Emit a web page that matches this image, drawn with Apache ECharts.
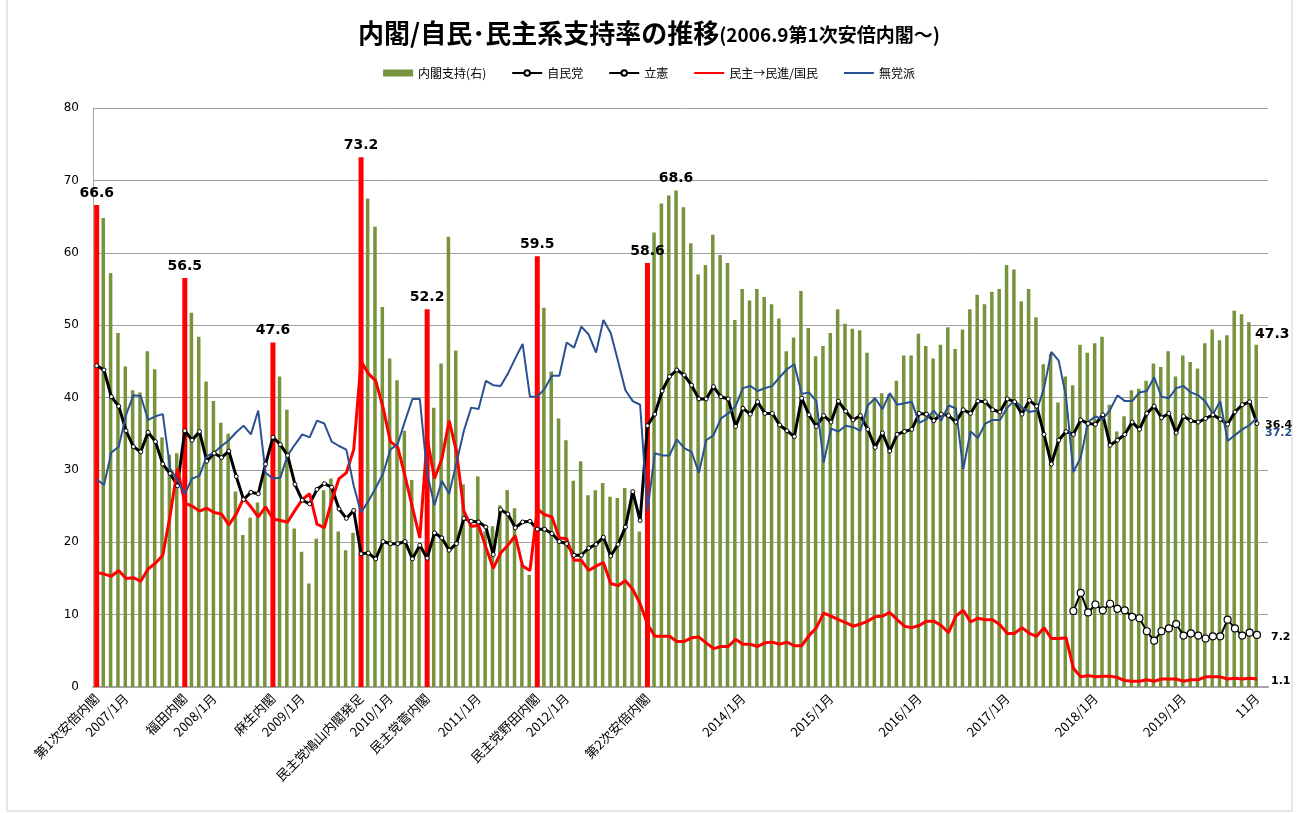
<!DOCTYPE html>
<html>
<head>
<meta charset="utf-8">
<script src="https://cdn.jsdelivr.net/npm/echarts@6/dist/echarts.min.js"></script>
<style>
html,body{margin:0;padding:0;background:#fff;}
#c{width:1298px;height:813px;}
</style>
</head>
<body>
<div id="c"></div>
<script>
// ---- categories: monthly 2006/9 .. 2019/12 (last slot empty) ----
const startYear = 2006, startMonth = 9, monthCount = 160;
const categories = [];
for (let k = 0; k < monthCount; k++) {
  const m = (startMonth - 1 + k) % 12 + 1;
  const y = startYear + Math.floor((startMonth - 1 + k) / 12);
  categories.push(y + '/' + m);
}

// ---- tick labels ----
const tickIndex = [0,4,12,16,24,28,36,40,45,52,60,64,75,88,100,112,124,136,148,158];
const tickText = ['第1次安倍内閣','2007/1月','福田内閣','2008/1月','麻生内閣','2009/1月','民主党鳩山内閣発足','2010/1月','民主党菅内閣','2011/1月','民主党野田内閣','2012/1月','第2次安倍内閣','2014/1月','2015/1月','2016/1月','2017/1月','2018/1月','2019/1月','11月'];

// months where a new cabinet started (drawn red, labelled)
const cabinetStart = [0,12,24,36,45,60,75];
// other labelled approval bars
const labelledBars = [79,158];

// ---- 内閣支持 (cabinet approval) ----
const cabinetApproval = [
66.6,64.8,57.2,48.9,44.3,41.0,40.7,46.4,43.9,34.5,32.1,32.3,
56.5,51.7,48.4,42.2,39.5,36.5,35.0,27.0,21.0,23.4,25.5,29.5,
47.6,42.9,38.3,21.9,18.7,14.3,20.5,27.2,28.8,21.5,18.9,21.3,
73.2,67.5,63.6,52.5,45.4,42.4,35.4,28.6,19.0,52.2,38.6,44.7,
62.2,46.5,28.0,23.0,29.1,21.5,22.2,25.1,27.2,24.7,17.0,15.5,
59.5,52.4,43.6,37.1,34.1,28.5,31.2,26.5,27.2,28.2,26.3,26.1,
27.5,27.0,21.5,58.6,62.8,66.8,67.9,68.6,66.3,61.3,57.0,58.3,
62.5,59.7,58.6,50.7,55.0,53.4,55.0,53.9,52.9,50.9,46.4,48.3,
54.7,49.6,45.7,47.1,48.9,52.2,50.2,49.5,49.3,46.2,40.0,40.6,
40.5,42.3,45.8,45.8,48.8,47.1,45.4,47.3,49.7,46.7,49.4,52.2,
54.2,52.9,54.6,55.0,58.3,57.7,53.3,55.0,51.1,44.6,46.0,39.3,
42.9,41.7,47.3,46.2,47.5,48.4,39.0,35.3,37.4,41.0,41.2,42.3,
44.7,44.2,46.4,42.9,45.8,44.9,44.0,47.5,49.4,47.9,48.6,52.0,
51.5,50.4,47.3
];

// ---- 自民党 ----
const ldp = [
44.4,43.8,40.1,38.8,35.4,33.2,32.5,35.2,33.9,30.8,29.5,27.8,
35.4,34.1,35.3,31.2,32.3,31.7,32.6,29.1,25.9,26.9,26.7,30.8,
34.5,33.5,32.0,28.0,25.8,25.3,27.3,28.1,27.6,24.6,23.3,24.4,
18.4,18.5,17.7,20.1,19.8,19.8,20.1,17.7,19.6,17.8,21.3,20.6,
18.9,19.8,23.3,22.9,22.8,22.1,18.3,24.5,23.9,22.0,22.8,22.9,
21.8,21.8,21.2,20.1,19.8,18.2,18.2,19.2,19.7,20.7,18.1,19.7,
22.1,27.0,23.0,36.1,37.7,40.9,42.9,43.8,43.1,41.7,39.8,39.8,
41.5,40.1,39.8,36.0,38.5,37.7,39.4,37.8,37.8,36.2,35.4,34.6,
39.9,37.6,36.0,37.5,36.6,39.5,38.1,36.9,37.5,35.6,33.1,35.1,
32.6,34.9,35.3,35.6,37.8,37.7,36.8,37.7,37.5,36.6,38.3,37.8,
39.5,39.4,38.3,38.0,39.8,39.4,37.7,39.6,38.8,34.9,30.8,34.1,
35.3,34.9,36.9,36.4,36.3,37.6,33.4,34.1,34.9,36.6,35.6,37.8,
38.8,37.2,37.8,35.1,37.4,36.8,36.6,37.1,37.6,37.0,36.3,38.0,
39.0,39.4,36.4
];

// ---- 立憲 (from 2017/10) ----
const cdpStart = 133;
const cdpValues = [
10.5,13.0,10.3,11.4,10.6,11.5,10.8,10.6,9.7,9.5,7.7,6.4,
7.7,8.1,8.7,7.1,7.4,7.1,6.7,7.0,7.0,9.3,8.1,7.1,7.5,7.2
];

// ---- 民主→民進/国民 ----
const dpj = [
15.8,15.6,15.3,16.1,15.0,15.1,14.6,16.3,17.1,18.2,23.7,30.2,
25.4,25.0,24.3,24.7,24.1,23.9,22.4,23.9,26.1,24.9,23.5,24.9,
23.2,23.0,22.8,24.4,25.9,26.7,22.5,22.0,25.7,28.8,29.6,32.8,
45.0,43.3,42.3,38.6,33.9,33.1,29.1,24.8,20.6,34.4,28.8,31.5,
36.8,32.5,24.3,22.2,22.3,19.3,16.4,18.5,19.6,20.9,16.7,16.1,
24.6,23.8,23.5,20.6,20.5,17.5,17.5,16.1,16.7,17.2,14.3,14.0,
14.7,13.5,11.5,8.7,7.0,7.0,7.0,6.3,6.3,6.8,6.9,6.1,
5.3,5.6,5.6,6.6,5.9,5.9,5.6,6.1,6.2,5.9,6.2,5.7,
5.7,7.1,8.2,10.2,9.8,9.3,8.9,8.4,8.7,9.1,9.7,9.8,
10.3,9.3,8.4,8.2,8.5,9.1,9.1,8.5,7.5,9.8,10.6,9.0,
9.5,9.3,9.3,8.6,7.4,7.4,8.2,7.4,7.0,8.2,6.7,6.7,
6.8,2.6,1.4,1.6,1.4,1.5,1.5,1.3,0.9,0.8,0.8,1.0,
0.8,1.1,1.1,1.1,0.8,1.0,1.0,1.4,1.4,1.4,1.1,1.2,
1.1,1.2,1.1
];

// ---- 無党派 ----
const independents = [
28.7,27.9,32.4,33.2,37.6,40.3,40.2,36.9,37.4,37.7,30.2,28.6,
26.7,28.8,29.2,31.9,32.4,33.3,34.1,35.2,36.1,34.9,38.2,29.6,
28.8,28.9,32.0,33.5,34.9,34.5,36.8,36.4,33.9,33.3,32.8,27.8,
24.1,25.7,27.5,29.5,32.8,33.6,36.8,39.8,39.8,29.5,25.1,28.5,
26.7,31.0,35.4,38.6,38.4,42.3,41.7,41.6,43.3,45.4,47.4,40.1,
40.1,41.2,43.0,43.0,47.6,46.9,49.8,48.7,46.2,50.7,48.9,45.0,
41.0,39.5,39.0,24.3,32.3,32.0,32.0,34.2,33.0,32.5,29.6,34.1,
34.8,37.1,37.8,38.8,41.3,41.6,40.9,41.3,41.6,42.8,43.9,44.6,
40.5,40.7,39.5,31.0,35.7,35.3,36.1,35.9,35.4,38.9,39.9,38.4,
40.6,39.0,39.2,39.4,36.5,37.0,38.2,36.8,38.9,38.5,30.1,35.3,
34.4,36.4,36.9,36.9,38.6,39.6,38.6,38.0,38.2,41.3,46.3,45.1,
40.1,29.7,31.7,36.6,37.4,37.0,38.3,40.3,39.5,39.5,40.7,40.9,
42.8,40.1,39.9,41.3,41.6,40.7,40.3,39.4,37.7,39.5,34.0,34.8,
35.6,36.2,37.2
];

// ---- build series data ----
const tickMap = {};
tickIndex.forEach((ix, k) => { tickMap[ix] = tickText[k]; });

const greenData = [], redData = [];
for (let k = 0; k < monthCount; k++) {
  const v = k < cabinetApproval.length ? cabinetApproval[k] : null;
  if (cabinetStart.indexOf(k) >= 0) {
    greenData.push(null);
    redData.push(v);
  } else {
    greenData.push(labelledBars.indexOf(k) >= 0 ? {
      value: v,
      label: { show: true, position: 'top', offset: k === 158 ? [16, 2] : [0, 0], formatter: '{c}' }
    } : v);
    redData.push(null);
  }
}
const cdp = [];
for (let k = 0; k < monthCount - 1; k++) {
  cdp.push(k >= cdpStart ? cdpValues[k - cdpStart] : null);
}

const labelFont = { fontFamily: 'DejaVu Sans', fontWeight: 'bold', fontSize: 14, color: '#000' };
const endFont = { fontFamily: 'DejaVu Sans', fontWeight: 'bold', fontSize: 11, color: '#000' };
const jp = '"Noto Sans CJK JP", sans-serif';

const chart = echarts.init(document.getElementById('c'), null, { renderer: 'canvas' });
chart.setOption({
  animation: false,
  backgroundColor: '#fff',
  title: {
    text: '{a|内閣/自民･民主系支持率の推移}{b|(2006.9第1次安倍内閣～)}',
    left: 'center',
    top: 15,
    textStyle: {
      rich: {
        a: { fontFamily: jp, fontSize: 26, fontWeight: 'bold', color: '#000' },
        b: { fontFamily: jp, fontSize: 19, fontWeight: 'bold', color: '#000', padding: [3, 0, 0, 0] }
      }
    }
  },
  legend: {
    top: 62,
    left: 'center',
    itemWidth: 30,
    itemHeight: 7,
    itemGap: 25,
    textStyle: { fontFamily: jp, fontSize: 12, color: '#000' },
    data: [
      { name: '内閣支持(右)', icon: 'rect' },
      { name: '自民党' },
      { name: '立憲' },
      { name: '民主→民進/国民', itemStyle: { opacity: 0 } },
      { name: '無党派', itemStyle: { opacity: 0 } }
    ]
  },
  graphic: [{
    type: 'rect',
    shape: { x: 7, y: -2, width: 1285, height: 813 },
    style: { fill: 'none', stroke: '#d0d0d0', lineWidth: 1 },
    silent: true, z: -10
  }],
  grid: { left: 93, right: 30, top: 108, bottom: 126, containLabel: false },
  xAxis: {
    type: 'category',
    data: categories,
    boundaryGap: true,
    axisLine: { show: true, lineStyle: { color: '#a6a6a6', width: 2 } },
    axisTick: { show: false },
    axisLabel: {
      interval: 0,
      rotate: 45,
      margin: 9,
      fontFamily: jp,
      fontSize: 13,
      color: '#000',
      formatter: (v, idx) => tickMap[idx] || ''
    },
    splitLine: { show: false }
  },
  yAxis: {
    type: 'value',
    min: 0, max: 80, interval: 10,
    axisLine: { show: true, lineStyle: { color: '#a6a6a6', width: 1 } },
    axisTick: { show: false },
    axisLabel: { fontFamily: 'DejaVu Sans', fontSize: 12, color: '#000', margin: 14 },
    splitLine: { show: true, lineStyle: { color: '#a0a0a0', width: 1 } }
  },
  series: [
    {
      name: '内閣支持(右)',
      type: 'bar',
      data: greenData,
      barWidth: 3.5,
      barGap: '-100%',
      itemStyle: { color: '#77933C' },
      label: Object.assign({ show: false }, labelFont),
      z: 2
    },
    {
      name: '内閣発足',
      type: 'bar',
      data: redData,
      barWidth: 5,
      barGap: '-100%',
      itemStyle: { color: '#FF0000' },
      label: Object.assign({ show: true, position: 'top', distance: 5, formatter: p => p.value == null ? '' : p.value.toFixed(1) }, labelFont),
      z: 2
    },
    {
      name: '自民党',
      type: 'line',
      data: ldp,
      symbol: 'circle',
      symbolSize: 4,
      showSymbol: true,
      lineStyle: { color: '#000', width: 3 },
      itemStyle: { color: '#fff', borderColor: '#000', borderWidth: 1 },
      endLabel: Object.assign({ show: true, formatter: p => p.value, offset: [0, 2] }, endFont),
      z: 4
    },
    {
      name: '立憲',
      type: 'line',
      data: cdp,
      symbol: 'circle',
      symbolSize: 7,
      showSymbol: true,
      connectNulls: false,
      lineStyle: { color: '#000', width: 2 },
      itemStyle: { color: '#fff', borderColor: '#000', borderWidth: 1.2 },
      endLabel: Object.assign({ show: true, formatter: p => p.value, offset: [6, 2] }, endFont),
      z: 4
    },
    {
      name: '民主→民進/国民',
      type: 'line',
      data: dpj,
      symbol: 'none',
      lineStyle: { color: '#FF0000', width: 3 },
      itemStyle: { color: '#FF0000' },
      endLabel: Object.assign({ show: true, formatter: p => p.value, offset: [6, 2] }, endFont),
      z: 4
    },
    {
      name: '無党派',
      type: 'line',
      data: independents,
      symbol: 'none',
      lineStyle: { color: '#2A5191', width: 2 },
      itemStyle: { color: '#2A5191' },
      endLabel: Object.assign({ show: true, formatter: p => p.value, offset: [0, 15] }, endFont, { color: '#2A5191' }),
      z: 4
    }
  ]
});
</script>
</body>
</html>
